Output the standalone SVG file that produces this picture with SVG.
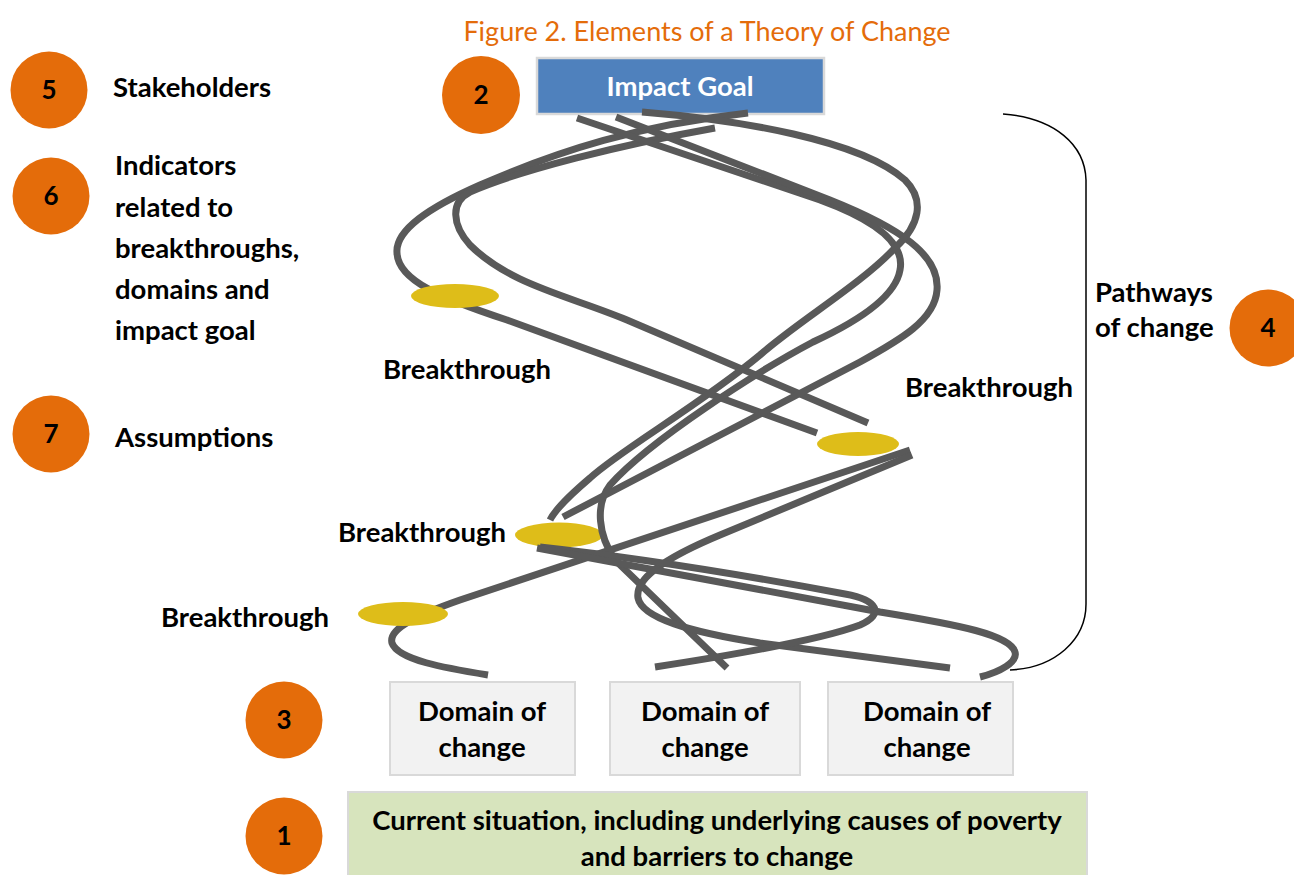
<svg xmlns="http://www.w3.org/2000/svg" width="1294" height="875" viewBox="0 0 1294 875">
  <style>
    .lbl { font-family: Lato, "Liberation Sans", sans-serif; font-weight: bold; font-size: 27.5px; fill: #000; }
    .num { font-family: Lato, "Liberation Sans", sans-serif; font-weight: bold; font-size: 26px; fill: #000; text-anchor: middle; }
    .mid { text-anchor: middle; }
    .badge { fill: #E46C0A; }
    .bt { fill: #DEBD19; }
    .path { fill: none; stroke: #595959; stroke-width: 7; stroke-linecap: butt; stroke-linejoin: round; }
    .domain { fill: #F2F2F2; stroke: #D9D9D9; stroke-width: 2; }
  </style>

  <rect width="1294" height="875" fill="#FFFFFF"/>

  <!-- title -->
  <text id="title" x="707" y="41" text-anchor="middle" font-family="Lato, 'Liberation Sans', sans-serif" font-size="27" fill="#E46C0A">Figure 2. Elements of a Theory of Change</text>

  <!-- impact goal -->
  <g id="impact-goal">
    <rect x="537" y="58" width="287" height="56" fill="#4F81BD" stroke="#D9D9D9" stroke-width="2.5"/>
    <text x="680" y="96" class="lbl mid" style="fill:#FFFFFF">Impact Goal</text>
  </g>

  <!-- breakthroughs drawn beneath the pathways -->
  <g id="breakthrough-right">
    <ellipse cx="858" cy="444" rx="41" ry="12" class="bt"/>
    <text x="905" y="397" class="lbl">Breakthrough</text>
  </g>
  <g id="breakthrough-center">
    <ellipse cx="559" cy="535" rx="44" ry="12.5" class="bt"/>
    <text x="338" y="542" class="lbl">Breakthrough</text>
  </g>

  <!-- pathways of change -->
  <g id="connectors">
    <!-- outer left loop -->
    <path class="path" d="M748,113 C640,125 560,150 480,185 C430,207 395,230 397,253 C398,280 440,298 507,320 L817,433"/>
    <!-- inner left loop -->
    <path class="path" d="M715,128 C620,145 520,170 470,192 C450,202 452,225 470,245 C510,285 570,296 627,320 L868,423"/>
    <!-- right loops -->
    <path class="path" d="M577,118 L820,200 C880,222 905,245 900,270 C895,300 850,325 813,342 C760,370 650,440 610,485 C595,505 598,535 615,560 L727,668"/>
    <path class="path" d="M616,117 L830,200 C900,228 940,255 937,290 C935,320 900,340 860,362 L563,517"/>
    <path class="path" d="M642,112 C740,120 860,140 905,180 C925,200 920,225 895,248 C860,285 800,320 760,355 C700,405 620,450 590,478 C570,495 555,510 550,520"/>
    <!-- pathways rising from the domains -->
    <path class="path" d="M488,675 C445,668 398,660 392,643 C388,628 420,614 460,600 L910,450"/>
    <path class="path" d="M912,455 L720,535 C660,560 635,580 638,598 C642,618 690,632 760,643 L950,668"/>
    <path class="path" d="M655,667 C720,657 820,640 860,625 C885,614 878,600 845,594 C760,578 640,558 540,547"/>
    <path class="path" d="M980,677 C1000,672 1018,662 1015,652 C1010,635 960,625 880,612 L537,548"/>
    <!-- bracket -->
    <path d="M1003,114 C1055,118 1085,145 1086,180 L1086,604 C1086,640 1055,668 1010,670" fill="none" stroke="#000" stroke-width="1.5"/>
  </g>

  <!-- breakthroughs drawn above the pathways -->
  <g id="breakthrough-left">
    <ellipse cx="455" cy="296" rx="44" ry="12" class="bt"/>
    <text x="383" y="379" class="lbl">Breakthrough</text>
  </g>
  <g id="breakthrough-low">
    <ellipse cx="403" cy="614" rx="45" ry="12" class="bt"/>
    <text x="161" y="627" class="lbl">Breakthrough</text>
  </g>

  <!-- domains of change -->
  <g id="domain-1">
    <rect x="390" y="682" width="185" height="93" class="domain"/>
    <text x="482" y="721" class="lbl mid">Domain of</text>
    <text x="482" y="757" class="lbl mid">change</text>
  </g>
  <g id="domain-2">
    <rect x="610" y="682" width="190" height="93" class="domain"/>
    <text x="705" y="721" class="lbl mid">Domain of</text>
    <text x="705" y="757" class="lbl mid">change</text>
  </g>
  <g id="domain-3">
    <rect x="828" y="682" width="185" height="93" class="domain"/>
    <text x="927" y="721" class="lbl mid">Domain of</text>
    <text x="927" y="757" class="lbl mid">change</text>
  </g>

  <!-- current situation -->
  <g id="current-situation">
    <rect x="348" y="792" width="739" height="90" fill="#D7E4BD" stroke="#D9D9D9" stroke-width="2"/>
    <text x="717" y="830" class="lbl mid">Current situation, including underlying causes of poverty</text>
    <text x="717" y="866" class="lbl mid">and barriers to change</text>
  </g>

  <!-- numbered elements -->
  <g id="element-5">
    <circle cx="49" cy="90" r="38.5" class="badge"/>
    <text x="49" y="99" class="num">5</text>
    <text x="113" y="97" class="lbl">Stakeholders</text>
  </g>
  <g id="element-2">
    <circle cx="481" cy="95" r="39" class="badge"/>
    <text x="481" y="104" class="num">2</text>
  </g>
  <g id="element-6">
    <circle cx="51" cy="196" r="38.5" class="badge"/>
    <text x="51" y="205" class="num">6</text>
    <text x="115" y="175" class="lbl">Indicators</text>
    <text x="115" y="217" class="lbl">related to</text>
    <text x="115" y="258" class="lbl">breakthroughs,</text>
    <text x="115" y="299" class="lbl">domains and</text>
    <text x="115" y="340" class="lbl">impact goal</text>
  </g>
  <g id="element-7">
    <circle cx="51" cy="434" r="38.5" class="badge"/>
    <text x="51" y="443" class="num">7</text>
    <text x="115" y="447" class="lbl">Assumptions</text>
  </g>
  <g id="element-4">
    <circle cx="1268" cy="328" r="38.5" class="badge"/>
    <text x="1268" y="337" class="num">4</text>
    <text x="1095" y="302" class="lbl">Pathways</text>
    <text x="1095" y="337" class="lbl">of change</text>
  </g>
  <g id="element-3">
    <circle cx="284" cy="720" r="38.5" class="badge"/>
    <text x="284" y="729" class="num">3</text>
  </g>
  <g id="element-1">
    <circle cx="284" cy="836" r="38.5" class="badge"/>
    <text x="284" y="845" class="num">1</text>
  </g>
</svg>
